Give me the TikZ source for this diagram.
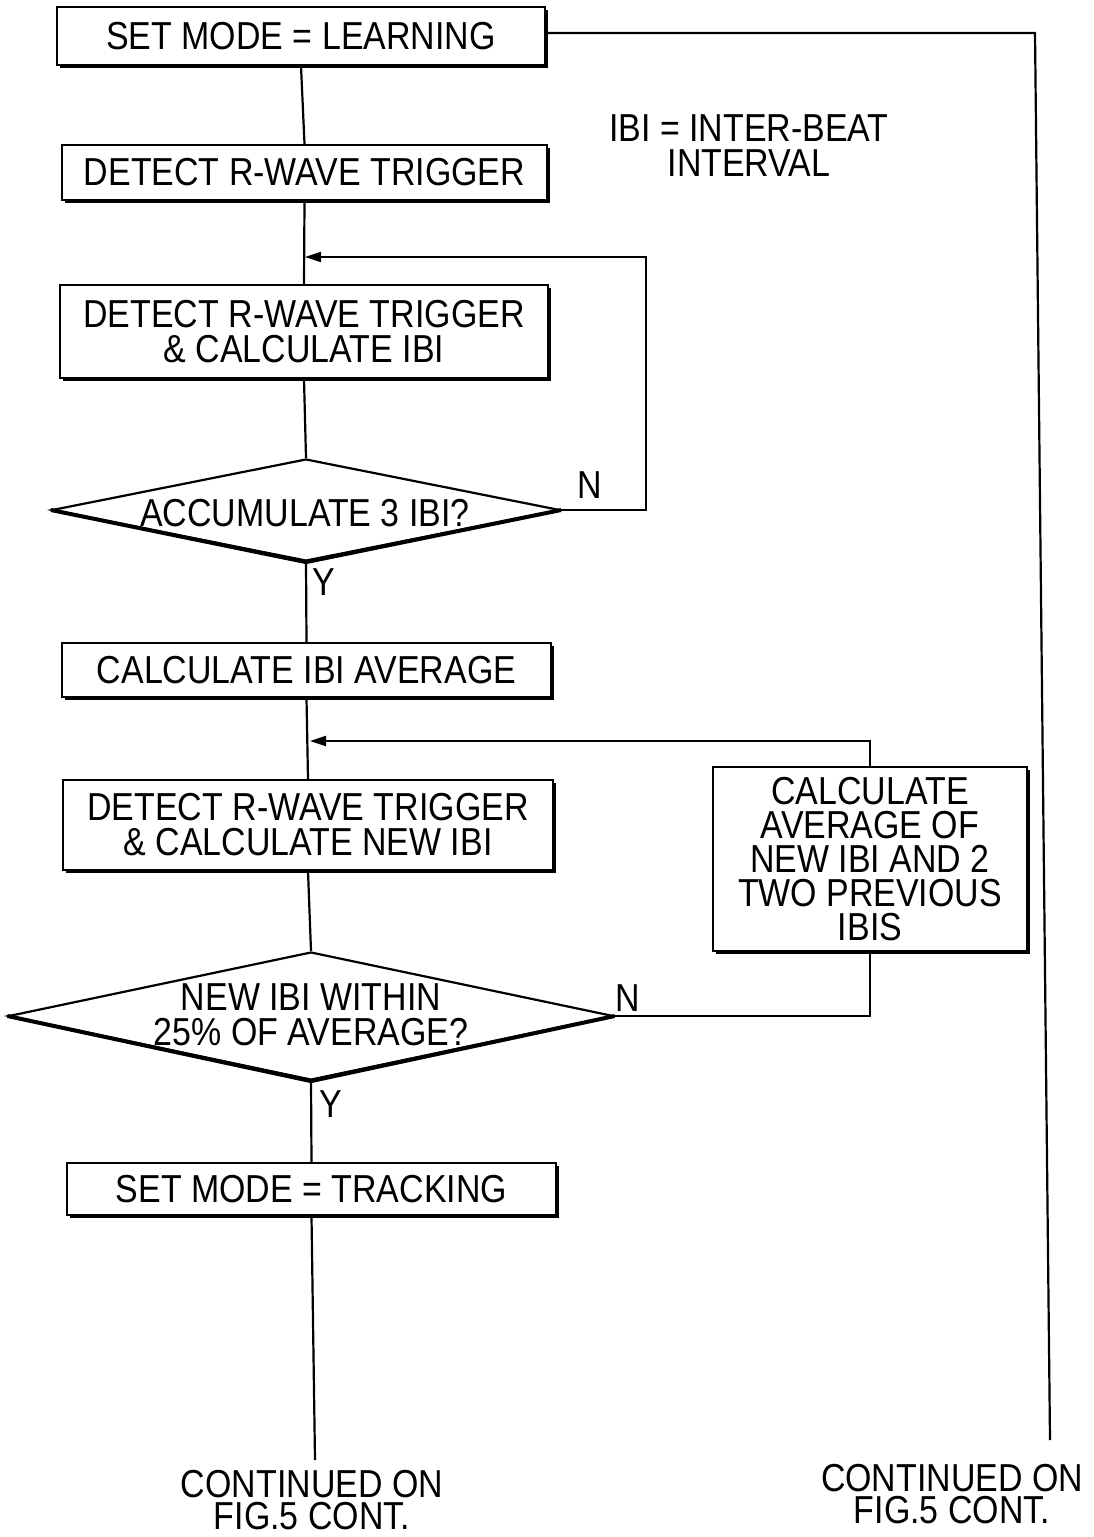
\documentclass[tikz,border=0pt]{standalone}
\usepackage{fontspec}
\setmainfont[FakeStretch=0.87]{Liberation Sans}
\usetikzlibrary{shapes.geometric,shadows,arrows.meta}
\tikzset{
  box/.style={draw, fill=white, rectangle, line width=2.4pt, inner sep=0pt, align=center,
    drop shadow={shadow xshift=2.5pt, shadow yshift=-2.5pt, opacity=1, fill=black}},
  dia/.style={draw, diamond, line width=2.2pt, inner sep=0pt},
  txt/.style={align=center, inner sep=0pt},
  conn/.style={line width=2.2pt},
  arr/.style={line width=2.2pt, -{Triangle[length=16pt,width=10pt]}},
}
\begin{document}
\begin{tikzpicture}[x=1pt,y=-1pt,font=\fontsize{39}{35}\selectfont]
\useasboundingbox (0,0) rectangle (1093,1537);
% boxes
\node[box, minimum width=488pt, minimum height=58pt] (b1) at (301,36) {SET MODE = LEARNING};
\node[box, minimum width=485pt, minimum height=55pt] (b2) at (304.5,172.5) {DETECT R-WAVE TRIGGER};
\node[box, minimum width=488pt, minimum height=93pt] (b3) at (304,331.5) {DETECT R-WAVE TRIGGER\\\& CALCULATE IBI};
\node[box, minimum width=489pt, minimum height=54pt] (b4) at (306.5,670) {CALCULATE IBI AVERAGE};
\node[box, minimum width=490pt, minimum height=90pt] (b5) at (308,825) {DETECT R-WAVE TRIGGER\\\& CALCULATE NEW IBI};
\node[box, minimum width=314pt, minimum height=184pt, font=\fontsize{39}{34}\selectfont] (b6) at (870,859) {CALCULATE\\AVERAGE OF\\NEW IBI AND 2\\TWO PREVIOUS\\IBIS};
\node[box, minimum width=489pt, minimum height=52pt] (b7) at (311.5,1189) {SET MODE = TRACKING};
% diamonds
\node[dia, minimum width=508pt, minimum height=102pt] (d1) at (306,510) {};
\node[txt] (d1t) at (305,513) {ACCUMULATE 3 IBI?};
\node[dia, minimum width=605pt, minimum height=128pt] (d2) at (311,1016) {};
\node[txt] (d2t) at (311,1015) {NEW IBI WITHIN\\25\% OF AVERAGE?};
\draw[line width=4pt, line join=round] (d1.west) -- (d1.south) -- (d1.east);
\draw[line width=4pt, line join=round] (d2.west) -- (d2.south) -- (d2.east);
% labels
\node[txt] (n1) at (590,485) {N};
\node[txt] (y1) at (324,582) {Y};
\node[txt] (n2) at (628,998) {N};
\node[txt] (y2) at (331,1104) {Y};
\node[txt] (note) at (749,146) {IBI = INTER-BEAT\\INTERVAL};
\node[txt, font=\fontsize{39}{32}\selectfont] (c1) at (312,1500) {CONTINUED ON\\FIG.5 CONT.};
\node[txt, font=\fontsize{39}{32}\selectfont] (c2) at (952,1494) {CONTINUED ON\\FIG.5 CONT.};
% coordinates
\coordinate (m1) at (305,257);
\coordinate (m2) at (310,741);
\coordinate (e1) at (315,1460);
\coordinate (e2) at (1050,1440);
\coordinate (r1) at (1035,33);
% connectors
\draw[conn] (b1.south) -- (b2.north);
\draw[conn] (b2.south) -- (b3.north);
\draw[conn] (b3.south) -- (d1.north);
\draw[conn] (d1.south) -- (b4.north);
\draw[conn] (b4.south) -- (b5.north);
\draw[conn] (b5.south) -- (d2.north);
\draw[conn] (d2.south) -- (b7.north);
\draw[conn] (b7.south) -- (e1);
\draw[arr] (d1.east) -- ++(85,0) |- (m1);
\draw[arr] (b6.north) |- (m2);
\draw[conn] (d2.east) -| (b6.south);
\draw[conn] (b1.east |- r1) -- (r1) -- (e2);
\end{tikzpicture}
\end{document}
